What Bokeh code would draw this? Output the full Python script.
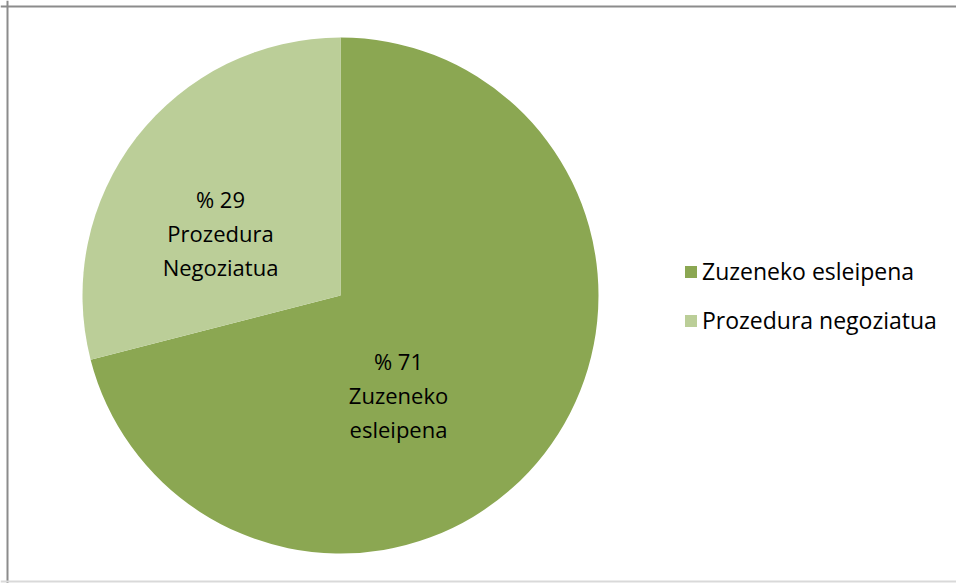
import math
from bokeh.plotting import figure
from bokeh.models import Range1d, Legend, LegendItem, Span, ColumnDataSource
from bokeh.core.properties import value
from bokeh.embed import file_html
from bokeh.resources import INLINE

# ---- data ----
categories = ["Zuzeneko esleipena", "Prozedura negoziatua"]
shares = [71, 29]
slice_labels = [["% 71", "Zuzeneko", "esleipena"], ["% 29", "Prozedura", "Negoziatua"]]
colors = ["#8BA752", "#BBCE98"]

# ---- layout ----
W, H = 956, 583
CX, CY, R = 340, 288, 258
FONT = "Open Sans"
# label anchor offsets (px, relative to pie centre) for each slice's label block
label_offsets = [(58, -99), (-120, 63)]
LINE_GAP = 34

p = figure(width=W, height=H, output_backend="svg", toolbar_location=None,
           x_range=Range1d(0, W), y_range=Range1d(0, H), min_border=0,
           outline_line_color=None, background_fill_color="white")
p.axis.visible = False
p.grid.visible = False

# wedges: start at 12 o'clock, go clockwise
total = sum(shares)
starts, ends = [], []
cur = math.pi / 2
for s in shares:
    ang = 2 * math.pi * s / total
    starts.append(cur - ang)
    ends.append(cur)
    cur -= ang

src = ColumnDataSource(dict(cat=categories, start=starts, end=ends, color=colors,
                            x=[CX] * len(shares), y=[CY] * len(shares)))
r = p.wedge(x="x", y="y", radius=R, start_angle="start", end_angle="end",
            fill_color="color", line_color=None, direction="anticlock", source=src)

# slice labels
tx, ty, tt = [], [], []
for (ox, oy), lines in zip(label_offsets, slice_labels):
    n = len(lines)
    for i, t in enumerate(lines):
        tx.append(CX + ox)
        ty.append(CY + oy + (n - 1) / 2 * LINE_GAP - i * LINE_GAP)
        tt.append(t)
p.text(x=tx, y=ty, text=tt, text_font=value(FONT), text_font_size="22px",
       text_align="center", text_baseline="middle", text_color="black")

# legend
items = [LegendItem(label=c, renderers=[r], index=i) for i, c in enumerate(categories)]
legend = Legend(items=items, location=(683, 247), orientation="vertical",
                label_text_font=FONT, label_text_font_size="23px",
                label_text_color="black", glyph_width=15, glyph_height=15,
                label_standoff=4, spacing=17, padding=0, margin=0,
                border_line_color=None, background_fill_alpha=0)
p.add_layout(legend, "center")

# chart border
p.add_layout(Span(location=7, dimension="height", line_color="#8c8c8c", line_width=2))
p.add_layout(Span(location=H - 6, dimension="width", line_color="#8c8c8c", line_width=2))
p.add_layout(Span(location=2, dimension="width", line_color="#d9d9d9", line_width=2))

open("out.html", "w").write(file_html(p, INLINE))
